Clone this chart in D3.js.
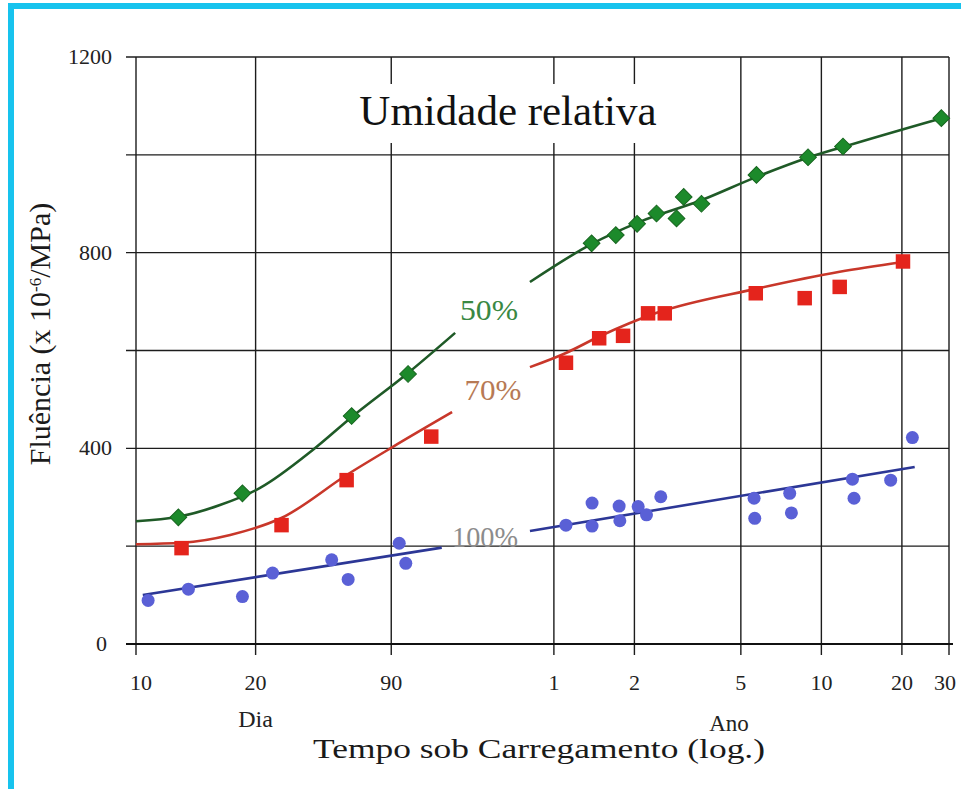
<!DOCTYPE html>
<html>
<head>
<meta charset="utf-8">
<script src="https://cdn.jsdelivr.net/npm/d3@7"></script>
<style>
  html, body { margin: 0; padding: 0; background: #fff; }
  svg { display: block; }
  text { font-family: "Liberation Serif", "Times New Roman", serif; }
</style>
</head>
<body>
<svg id="chart" width="961" height="789"></svg>
<script>
// Time axis: positions are days under load (log scale), labels read as days then years
const tickDays   = [10, 28, 90, 365, 730, 1825, 3650, 7300, 10950];
const tickLabels = ["10", "20", "90", "1", "2", "5", "10", "20", "30"];

// Creep axis (x10^-6 / MPa)
const gridValues  = [200, 400, 600, 800, 1000, 1200];
const yTickValues = [0, 400, 800, 1200];

// Measured creep, relative humidity 50 % : [days, creep]
const rh50Points = [
  [14.4, 259], [25.0, 308], [64.0, 466], [104, 552],
  [505, 819], [622, 836], [747, 859], [883, 880], [1049, 870], [1116, 914],
  [1300, 900], [2087, 959], [3254, 995], [4397, 1017], [10250, 1075]
];
// Relative humidity 70 %
const rh70Points = [
  [14.8, 196], [35.0, 243], [61.3, 335], [127, 424],
  [405, 575], [539, 625], [662, 630], [821, 676], [948, 676],
  [2075, 717], [3162, 707], [4274, 730], [7369, 782]
];
// Relative humidity 100 %
const rh100Points = [
  [11.1, 89], [15.7, 112], [25.0, 97], [32.4, 145], [53.9, 172], [62.1, 132],
  [96.4, 206], [102, 165],
  [405, 243], [507, 288], [507, 241], [640, 282], [644, 252], [754, 281],
  [810, 264], [916, 301], [2045, 298], [2057, 257], [2779, 308], [2820, 268],
  [4769, 337], [4834, 298], [6628, 335], [7989, 422]
];

// Fitted curves, each drawn in two pieces around its label
const rh50CurveA = [[10, 251], [14.4, 260], [20.6, 284], [29.1, 319], [45.9, 397], [64.1, 464], [104, 554], [156, 636]];
const rh50CurveB = [[297, 740], [506, 818], [764, 863], [1281, 906], [2092, 955], [3245, 994], [4385, 1016], [10280, 1075]];
const rh70CurveA = [[10, 204], [14.9, 207], [22.5, 223], [35.1, 258], [61.5, 346], [91.3, 403], [152, 474]];
const rh70CurveB = [[297, 566], [405, 595], [537, 628], [885, 677], [2075, 726], [4274, 761], [7349, 781]];
const rh100LineA = [[10.6, 100], [139, 197]];
const rh100LineB = [[297, 231], [8150, 362]];

const seriesLabels = ["50%", "70%", "100%"];

const svg = d3.select("#chart");
const x = d3.scaleLog().domain([10, 10950]).range([136, 949]);
const y = d3.scaleLinear().domain([0, 1200]).range([644, 57]);

// Frame
svg.append("rect").attr("x", 0).attr("y", 0).attr("width", 961).attr("height", 789).attr("fill", "#fff");
svg.append("rect").attr("x", 8).attr("y", 3).attr("width", 953).attr("height", 6).attr("fill", "#17c3ee");
svg.append("rect").attr("x", 8).attr("y", 3).attr("width", 6).attr("height", 786).attr("fill", "#17c3ee");

const grid = svg.append("g").attr("stroke", "#1c1c1c").attr("stroke-width", 1.4);

// Horizontal grid lines with left ticks
grid.selectAll("line.h").data(gridValues).join("line")
  .attr("x1", 126).attr("x2", x(10950))
  .attr("y1", d => y(d)).attr("y2", d => y(d));

// Vertical grid lines with bottom ticks
grid.selectAll("line.v").data(tickDays).join("line")
  .attr("x1", d => x(d)).attr("x2", d => x(d))
  .attr("y1", y(1200)).attr("y2", y(0) + 11);

// Base line
svg.append("line").attr("x1", 126).attr("x2", x(10950) + 4)
  .attr("y1", y(0)).attr("y2", y(0))
  .attr("stroke", "#111").attr("stroke-width", 2.2);

// Y tick labels
svg.selectAll("text.yt").data(yTickValues).join("text")
  .attr("x", d => d === 0 ? 107 : 112).attr("y", d => y(d) + 7)
  .attr("text-anchor", "end").attr("font-size", 22).attr("fill", "#222")
  .text(d => d);

// X tick labels, end labels kept inside the frame
svg.selectAll("text.xt").data(tickDays).join("text")
  .attr("x", d => Math.min(Math.max(x(d), 141), 945)).attr("y", 690)
  .attr("text-anchor", "middle").attr("font-size", 22).attr("fill", "#222")
  .text((d, i) => tickLabels[i]);

svg.append("text").attr("x", x(28)).attr("y", 727).attr("text-anchor", "middle")
  .attr("font-size", 24).attr("fill", "#222").text("Dia");
svg.append("text").attr("x", 729).attr("y", 731).attr("text-anchor", "middle")
  .attr("font-size", 23).attr("fill", "#222").text("Ano");

svg.append("text").attr("x", 313).attr("y", 758)
  .attr("font-size", 28).attr("fill", "#1a1a1a")
  .attr("textLength", 452).attr("lengthAdjust", "spacingAndGlyphs")
  .text("Tempo sob Carregamento (log.)");

// Y axis title
const yt = svg.append("text")
  .attr("transform", "translate(50,334) rotate(-90)")
  .attr("text-anchor", "middle").attr("font-size", 30).attr("fill", "#1a1a1a");
yt.append("tspan").text("Fluência (x 10");
yt.append("tspan").attr("font-size", 17).attr("baseline-shift", "55%").text("-6");
yt.append("tspan").text("/MPa)");

// Chart title on a white panel
svg.append("rect").attr("x", 350).attr("y", 84).attr("width", 315).attr("height", 59).attr("fill", "#fff");
svg.append("text").attr("x", 508).attr("y", 125).attr("text-anchor", "middle")
  .attr("font-size", 43).attr("fill", "#111").text("Umidade relativa");

// Curves
const line = d3.line().x(d => x(d[0])).y(d => y(d[1])).curve(d3.curveMonotoneX);
const curves = [
  [rh50CurveA, "#1f5a27"], [rh50CurveB, "#1f5a27"],
  [rh70CurveA, "#c8372a"], [rh70CurveB, "#c8372a"],
  [rh100LineA, "#2c3796"], [rh100LineB, "#2c3796"]
];
svg.selectAll("path.curve").data(curves).join("path")
  .attr("d", d => line(d[0])).attr("fill", "none")
  .attr("stroke", d => d[1]).attr("stroke-width", 2.6);

// Markers
svg.selectAll("path.rh100").data(rh100Points).join("circle")
  .attr("cx", d => x(d[0])).attr("cy", d => y(d[1])).attr("r", 6.5)
  .attr("fill", "#5a60d6");

const sq = d3.symbol().type(d3.symbolSquare).size(210);
svg.selectAll("path.rh70").data(rh70Points).join("path")
  .attr("d", sq).attr("transform", d => `translate(${x(d[0])},${y(d[1])})`)
  .attr("fill", "#e4241c");

const dm = d3.symbol().type(d3.symbolSquare).size(140);
svg.selectAll("path.rh50").data(rh50Points).join("path")
  .attr("d", dm).attr("transform", d => `translate(${x(d[0])},${y(d[1])}) rotate(45)`)
  .attr("fill", "#1c8a2b").attr("stroke", "#17661f").attr("stroke-width", 1);

// Series labels
const labelPos = [[489, 320, "#3a8843", 58], [493, 400, "#b77a55", 57], [485, 547, "#8c8c8c", 66]];
svg.selectAll("text.sl").data(seriesLabels).join("text")
  .attr("x", (d, i) => labelPos[i][0] - labelPos[i][3] / 2).attr("y", (d, i) => labelPos[i][1])
  .attr("font-size", 29).attr("fill", (d, i) => labelPos[i][2])
  .attr("textLength", (d, i) => labelPos[i][3]).attr("lengthAdjust", "spacingAndGlyphs")
  .text(d => d);
</script>
</body>
</html>
